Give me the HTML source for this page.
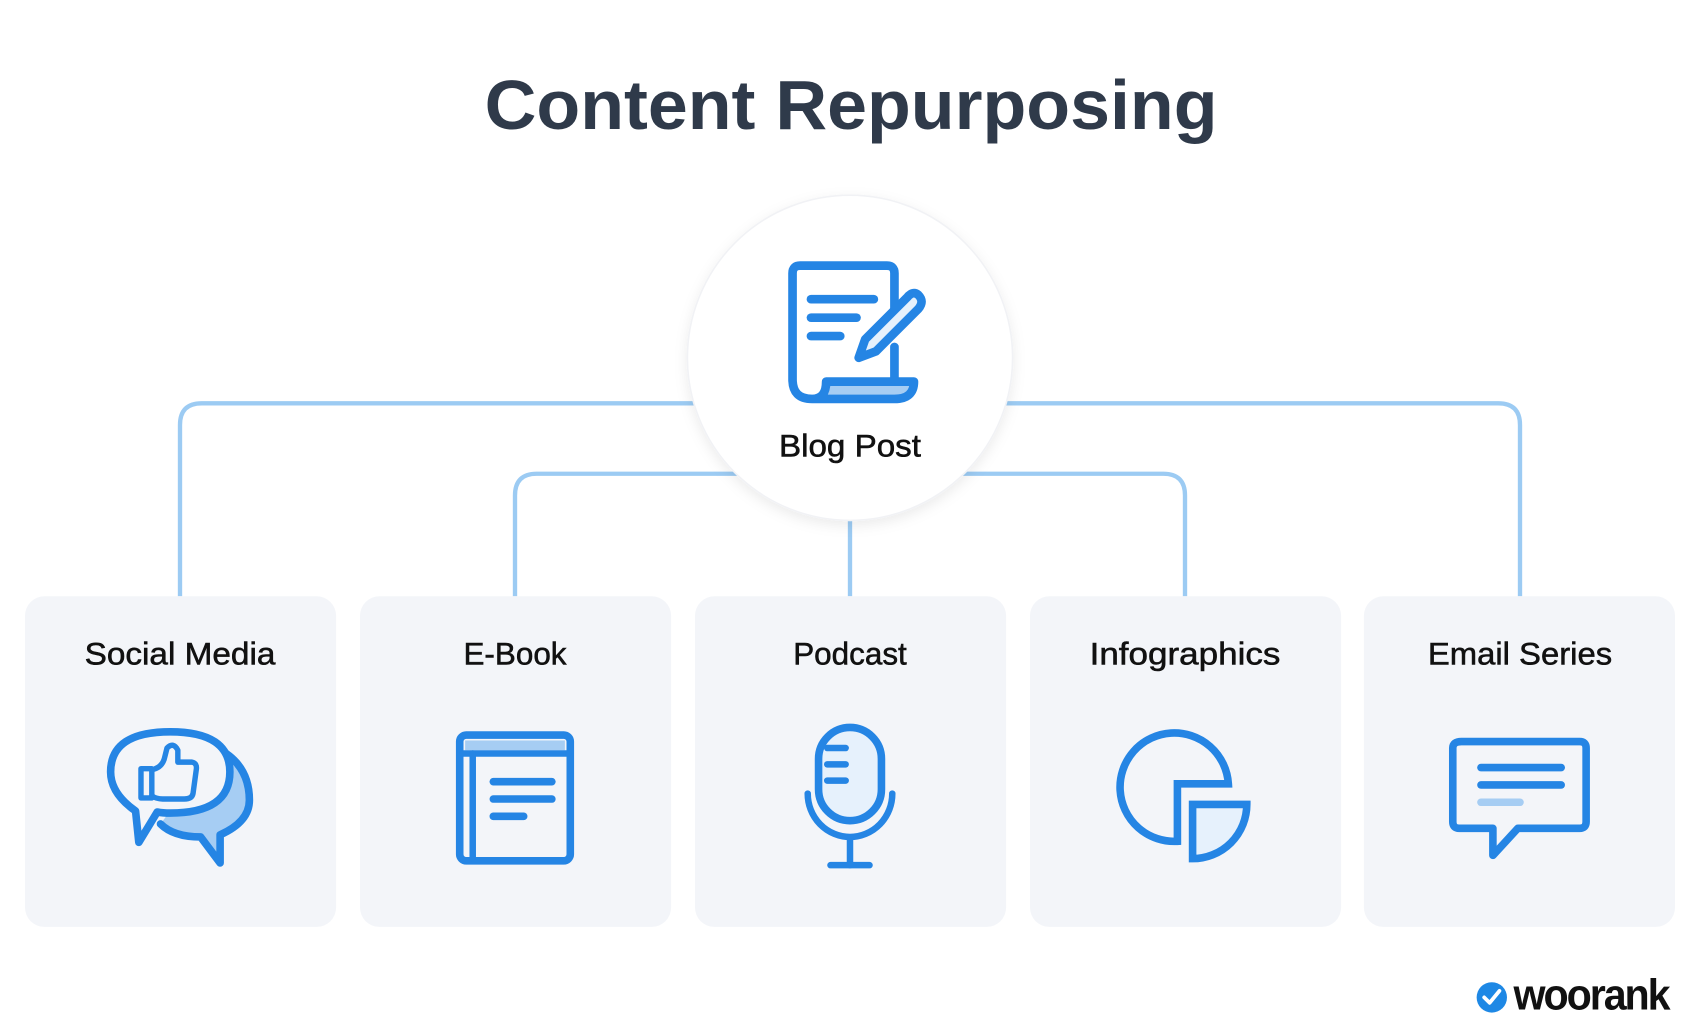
<!DOCTYPE html>
<html><head><meta charset="utf-8"><style>html,body{margin:0;padding:0;background:#fff}svg{display:block}</style></head>
<body>
<svg width="1700" height="1036" viewBox="0 0 1568 955.6" xmlns="http://www.w3.org/2000/svg" font-family="'Liberation Sans', sans-serif">
<defs>
<filter id="sh" x="-20%" y="-20%" width="140%" height="140%"><feDropShadow dx="0" dy="4" stdDeviation="6" flood-color="#000" flood-opacity="0.08"/></filter>
</defs>
<rect width="1568" height="956" fill="#fff"/>
<text x="785" y="119" text-anchor="middle" font-size="64" font-weight="bold" fill="#2f3a4a" textLength="676" lengthAdjust="spacingAndGlyphs">Content Repurposing</text>

<g fill="none" stroke="#9ccbf3" stroke-width="4">
<path d="M166 550 V392 Q166 372 186 372 H1382 Q1402 372 1402 392 V550"/>
<path d="M475 550 V457 Q475 437 495 437 H1073 Q1093 437 1093 457 V550"/>
<path d="M784 470 V550"/>
</g>
<circle cx="784" cy="330" r="150" fill="#fff" stroke="#f1f2f5" stroke-width="1.5" filter="url(#sh)"/>

<g fill="#f3f5f9">
<rect x="23" y="550" width="287" height="305" rx="18"/>
<rect x="332" y="550" width="287" height="305" rx="18"/>
<rect x="641" y="550" width="287" height="305" rx="18"/>
<rect x="950" y="550" width="287" height="305" rx="18"/>
<rect x="1258" y="550" width="287" height="305" rx="18"/>
</g>
<g font-size="29" fill="#111" text-anchor="middle" stroke="#111" stroke-width="0.5">
<text x="166" y="613" textLength="176" lengthAdjust="spacingAndGlyphs">Social Media</text>
<text x="475" y="613">E-Book</text>
<text x="784" y="613">Podcast</text>
<text x="1093" y="613" textLength="176" lengthAdjust="spacingAndGlyphs">Infographics</text>
<text x="1402" y="613" textLength="170" lengthAdjust="spacingAndGlyphs">Email Series</text>
<text x="784" y="421" textLength="131" lengthAdjust="spacingAndGlyphs">Blog Post</text>
</g>

<g stroke="#2585e4" stroke-width="8" stroke-linecap="round" stroke-linejoin="round" fill="none">
<!-- blog post -->
<path d="M762 352 H843 Q843 368 825 368 H752 Z" fill="#a6cdf3" stroke="none"/>
<path d="M825 290 V252 Q825 245 818 245 H738 Q731 245 731 252 V350 Q731 368 749 368 Q762 368 762 352 H843 Q843 368 825 368 H749"/>
<line x1="748" y1="276" x2="806" y2="276"/>
<line x1="748" y1="293" x2="790" y2="293"/>
<line x1="748" y1="310" x2="775" y2="310"/>
<line x1="825" y1="320" x2="825" y2="350"/>
<path d="M847 272 Q853 278 847 285 L808 324 L792 330 L798 313 L837 274 Q842 268 847 272 Z" fill="#e6f1fc"/>

<!-- social media -->
<path d="M200 690 Q230 705 230 738 Q230 758 203 770 L203 796 L185 772 Q160 772 148 760" fill="#a6cdf3" stroke-width="7"/>
<path d="M125 748 Q102 732 102 712 Q102 675 157 675 Q212 675 212 712 Q212 750 157 750 Q150 750 145 749 L128 777 Z" fill="#f3f5f9" stroke-width="7"/>
<path d="M130 709 H140 V736 H130 Z" stroke-width="5"/>
<path d="M140 710 Q150 708 152 698 L154 690 Q160 684 164 692 V703 H177 Q182 704 181 710 L178 732 Q177 737 170 737 H150 Q144 737 140 734" stroke-width="5"/>

<!-- ebook -->
<rect x="424" y="678" width="102" height="116" rx="6" stroke-width="7"/>
<rect x="429" y="683" width="92" height="9" fill="#a6cdf3" stroke="none"/>
<line x1="427" y1="695" x2="524" y2="695" stroke-width="6"/>
<line x1="436" y1="695" x2="436" y2="792" stroke-width="6"/>
<line x1="455" y1="721" x2="509" y2="721" stroke-width="7"/>
<line x1="455" y1="737" x2="509" y2="737" stroke-width="7"/>
<line x1="455" y1="753" x2="483" y2="753" stroke-width="7"/>

<!-- podcast -->
<rect x="755" y="671" width="58" height="86" rx="29" fill="#e6f1fc" stroke-width="7"/>
<line x1="763" y1="690" x2="780" y2="690" stroke-width="6"/>
<line x1="763" y1="705" x2="780" y2="705" stroke-width="6"/>
<line x1="763" y1="720" x2="780" y2="720" stroke-width="6"/>
<path d="M745 732 A39 40 0 0 0 823 732" stroke-width="6"/>
<line x1="784" y1="773" x2="784" y2="798" stroke-width="6"/>
<line x1="766" y1="798" x2="802" y2="798" stroke-width="6"/>

<!-- infographics -->
<path d="M1086 776 A50 50 0 1 1 1133 723 H1086 Z" stroke-width="7" stroke-linecap="butt" stroke-linejoin="miter"/>
<path d="M1100 742 H1150 A50 50 0 0 1 1100 792 Z" fill="#e6f1fc" stroke-width="7" stroke-linecap="butt" stroke-linejoin="miter"/>

<!-- email -->
<path d="M1348 684 H1457 Q1463 684 1463 690 V758 Q1463 764 1457 764 H1400 L1377 789 V764 H1346 Q1340 764 1340 758 V690 Q1340 684 1348 684 Z" stroke-width="7"/>
<line x1="1366" y1="708" x2="1440" y2="708" stroke-width="7"/>
<line x1="1366" y1="724" x2="1440" y2="724" stroke-width="7"/>
<line x1="1366" y1="740" x2="1402" y2="740" stroke-width="7" stroke="#a6cdf3"/>
</g>

<!-- woorank -->
<circle cx="1376" cy="920" r="14" fill="#1e88e5"/>
<path d="M1369 920 L1374 925 L1383 914" stroke="#fff" stroke-width="3.5" fill="none" stroke-linecap="round" stroke-linejoin="round"/>
<text x="1396" y="931" font-size="40" font-weight="bold" fill="#111" letter-spacing="-2" textLength="143" lengthAdjust="spacingAndGlyphs">woorank</text>
</svg>
</body></html>
